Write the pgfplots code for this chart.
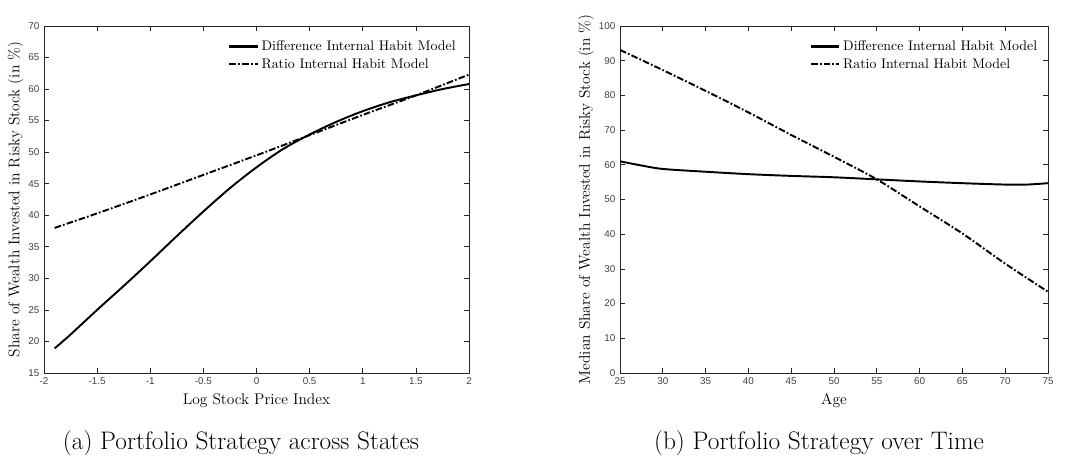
\documentclass[border=0pt]{standalone}
\usepackage{pgfplots}
\pgfplotsset{compat=1.18}
\usepackage{fontspec}
\newfontfamily\tickfont{Liberation Sans}

\definecolor{axisgray}{gray}{0.15}
\definecolor{tickgray}{gray}{0.25}

\pgfplotsset{
  dashdot/.style={dash pattern=on 5pt off 1.6pt on 1.3pt off 1.6pt},
  diffline/.style={black, solid, line width=1.45pt, smooth, tension=0.5},
  ratioline/.style={black, dashdot, line width=1.45pt, smooth, tension=0.5},
  habit/.style={
    scale only axis,
    anchor=south west,
    axis line style={axisgray, line width=0.5pt},
    tick style={axisgray, line width=0.5pt},
    tick align=inside,
    major tick length=3.5pt,
    xtick pos=both, ytick pos=both,
    /pgf/number format/assume math mode=true,
    ticklabel style={font=\tickfont\fontsize{7.4}{8}\selectfont, text=tickgray},
    label style={font=\fontsize{11.6}{13}\selectfont},
    xlabel style={yshift=0pt},
    ylabel style={yshift=-3pt},
    legend style={draw=none, fill=none, font=\fontsize{10.4}{12}\selectfont,
      row sep=0.6pt, inner sep=1pt},
    legend cell align=left,
    legend image code/.code={\draw[##1, line width=1.6pt] (0cm,0cm) -- (0.75cm,0cm);},
    no marks,
  },
}

\begin{document}
\begin{tikzpicture}
\useasboundingbox (0pt,0pt) rectangle (798.75pt,344.25pt);

% (a) Portfolio share against the log stock price index
\begin{axis}[habit,
  at={(33pt,64.5pt)}, width=318.75pt, height=260.25pt,
  xmin=-2, xmax=2, ymin=15, ymax=70,
  xtick={-2,-1.5,...,2}, ytick={15,20,...,70},
  xticklabels={-2,-1.5,-1,-0.5,0,0.5,1,1.5,2},
  xlabel={Log Stock Price Index},
  ylabel={Share of Wealth Invested in Risky Stock (in \%)},
  legend style={at={(0.43,0.97)}, anchor=north west},
]
\addplot[diffline] coordinates {
  (-1.9,18.9) (-1.75,21.1) (-1.5,25.0) (-1.25,28.8) (-1,32.7) (-0.75,36.7)
  (-0.5,40.6) (-0.25,44.3) (0,47.6) (0.25,50.5) (0.5,52.8) (0.75,54.8)
  (1,56.5) (1.25,57.9) (1.5,59.0) (1.75,60.0) (2,60.8)
};
\addlegendentry{Difference Internal Habit Model}
\addplot[ratioline] coordinates {
  (-1.9,38.0) (-1.5,40.3) (-1,43.3) (-0.5,46.4) (0,49.5) (0.5,52.7)
  (1,55.9) (1.5,59.0) (2,62.3)
};
\addlegendentry{Ratio Internal Habit Model}
\end{axis}

% (b) Median portfolio share over the life cycle
\begin{axis}[habit,
  at={(465pt,64.5pt)}, width=321pt, height=260.25pt,
  xmin=25, xmax=75, ymin=0, ymax=100,
  xtick={25,30,...,75}, ytick={0,10,...,100},
  xlabel={Age},
  ylabel={Median Share of Wealth Invested in Risky Stock (in \%)},
  legend style={at={(0.44,0.97)}, anchor=north west},
]
\addplot[diffline] coordinates {
  (25,61.0) (27.5,59.8) (30,58.8) (35,58.0) (40,57.3) (45,56.8) (50,56.4)
  (55,55.8) (60,55.2) (65,54.7) (70,54.3) (72.5,54.3) (75,54.7)
};
\addlegendentry{Difference Internal Habit Model}
\addplot[ratioline] coordinates {
  (25,93.1) (30,87.3) (35,81.3) (40,75.1) (45,68.6) (50,62.3) (55,55.8)
  (60,48.0) (65,40.2) (70,31.5) (75,23.4)
};
\addlegendentry{Ratio Internal Habit Model}
\end{axis}

\node[font=\fontsize{19}{22}\selectfont] at (180.75pt,12pt) {(a) Portfolio Strategy across States};
\node[font=\fontsize{19}{22}\selectfont] at (614.25pt,12pt) {(b) Portfolio Strategy over Time};
\end{tikzpicture}
\end{document}
